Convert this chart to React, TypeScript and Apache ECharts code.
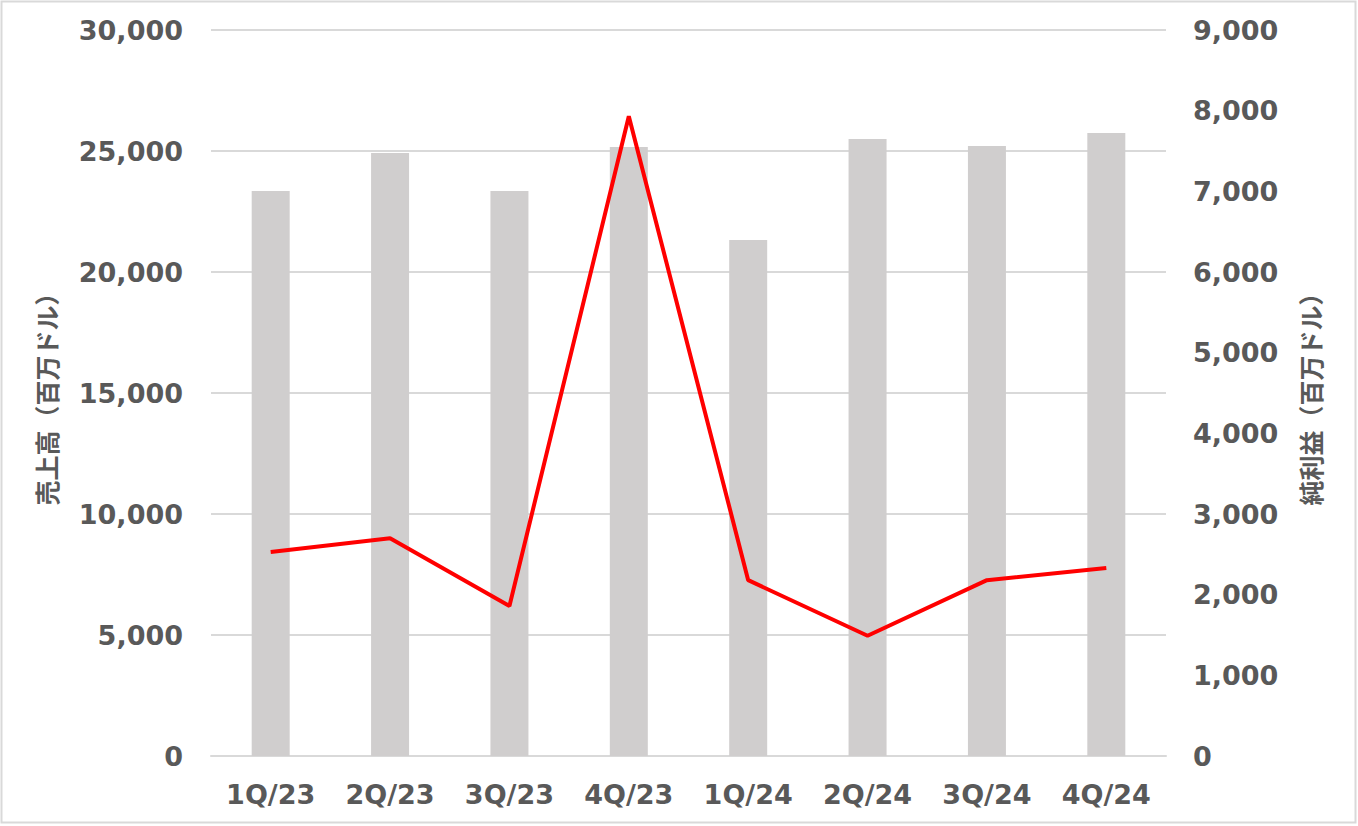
import React, { useEffect, useRef } from "react";
import * as echarts from "echarts";

const categories = ["1Q/23", "2Q/23", "3Q/23", "4Q/23", "1Q/24", "2Q/24", "3Q/24", "4Q/24"];
const revenue = [23350, 24920, 23350, 25170, 21320, 25500, 25210, 25740];
const netIncome = [2530, 2700, 1860, 7930, 2180, 1490, 2180, 2330];
const leftAxisName = "売上高（百万ドル）";
const rightAxisName = "純利益（百万ドル）";

const TEXT = "#595959";
const FONT = "'DejaVu Sans', Verdana, sans-serif";
const CJK = "'Noto Sans CJK JP', sans-serif";

export default function App() {
  const ref = useRef<HTMLDivElement>(null);
  useEffect(() => {
    document.body.style.margin = "0";
    const chart = echarts.init(ref.current!, null, { renderer: "svg" });
    chart.setOption({
      animation: false,
      backgroundColor: "#ffffff",
      grid: { left: 211, right: 192, top: 30, bottom: 70 },
      graphic: [
        {
          type: "rect",
          shape: { x: 1.5, y: 1.5, width: 1354, height: 821 },
          style: { fill: "none", stroke: "#d9d9d9", lineWidth: 2 },
          silent: true,
        },
      ],
      xAxis: {
        type: "category",
        data: categories,
        axisTick: { show: false },
        axisLine: { lineStyle: { color: "#d9d9d9", width: 2 } },
        axisLabel: { color: TEXT, fontFamily: FONT, fontWeight: "bold", fontSize: 27, margin: 25 },
      },
      yAxis: [
        {
          type: "value",
          min: 0,
          max: 30000,
          interval: 5000,
          name: leftAxisName,
          nameLocation: "middle",
          nameGap: 153,
          nameRotate: 90,
          nameTextStyle: { color: TEXT, fontFamily: CJK, fontWeight: "bold", fontSize: 25 },
          axisLine: { show: false },
          axisTick: { show: false },
          axisLabel: {
            color: TEXT,
            fontFamily: FONT,
            fontWeight: "bold",
            fontSize: 27,
            margin: 28,
            formatter: (v: number) => v.toLocaleString("en-US"),
          },
          splitLine: { lineStyle: { color: "#d9d9d9", width: 2 } },
        },
        {
          type: "value",
          min: 0,
          max: 9000,
          interval: 1000,
          name: rightAxisName,
          nameLocation: "middle",
          nameGap: 131,
          nameRotate: 90,
          nameTextStyle: { color: TEXT, fontFamily: CJK, fontWeight: "bold", fontSize: 25 },
          axisLine: { show: false },
          axisTick: { show: false },
          axisLabel: {
            color: TEXT,
            fontFamily: FONT,
            fontWeight: "bold",
            fontSize: 27,
            margin: 27,
            formatter: (v: number) => v.toLocaleString("en-US"),
          },
          splitLine: { show: false },
        },
      ],
      series: [
        {
          type: "bar",
          data: revenue,
          yAxisIndex: 0,
          barWidth: 38,
          itemStyle: { color: "#d0cece" },
        },
        {
          type: "line",
          data: netIncome,
          yAxisIndex: 1,
          symbol: "none",
          lineStyle: { color: "#ff0000", width: 4 },
        },
      ],
    });
    return () => chart.dispose();
  }, []);
  return <div ref={ref} style={{ width: 1358, height: 826 }} />;
}
